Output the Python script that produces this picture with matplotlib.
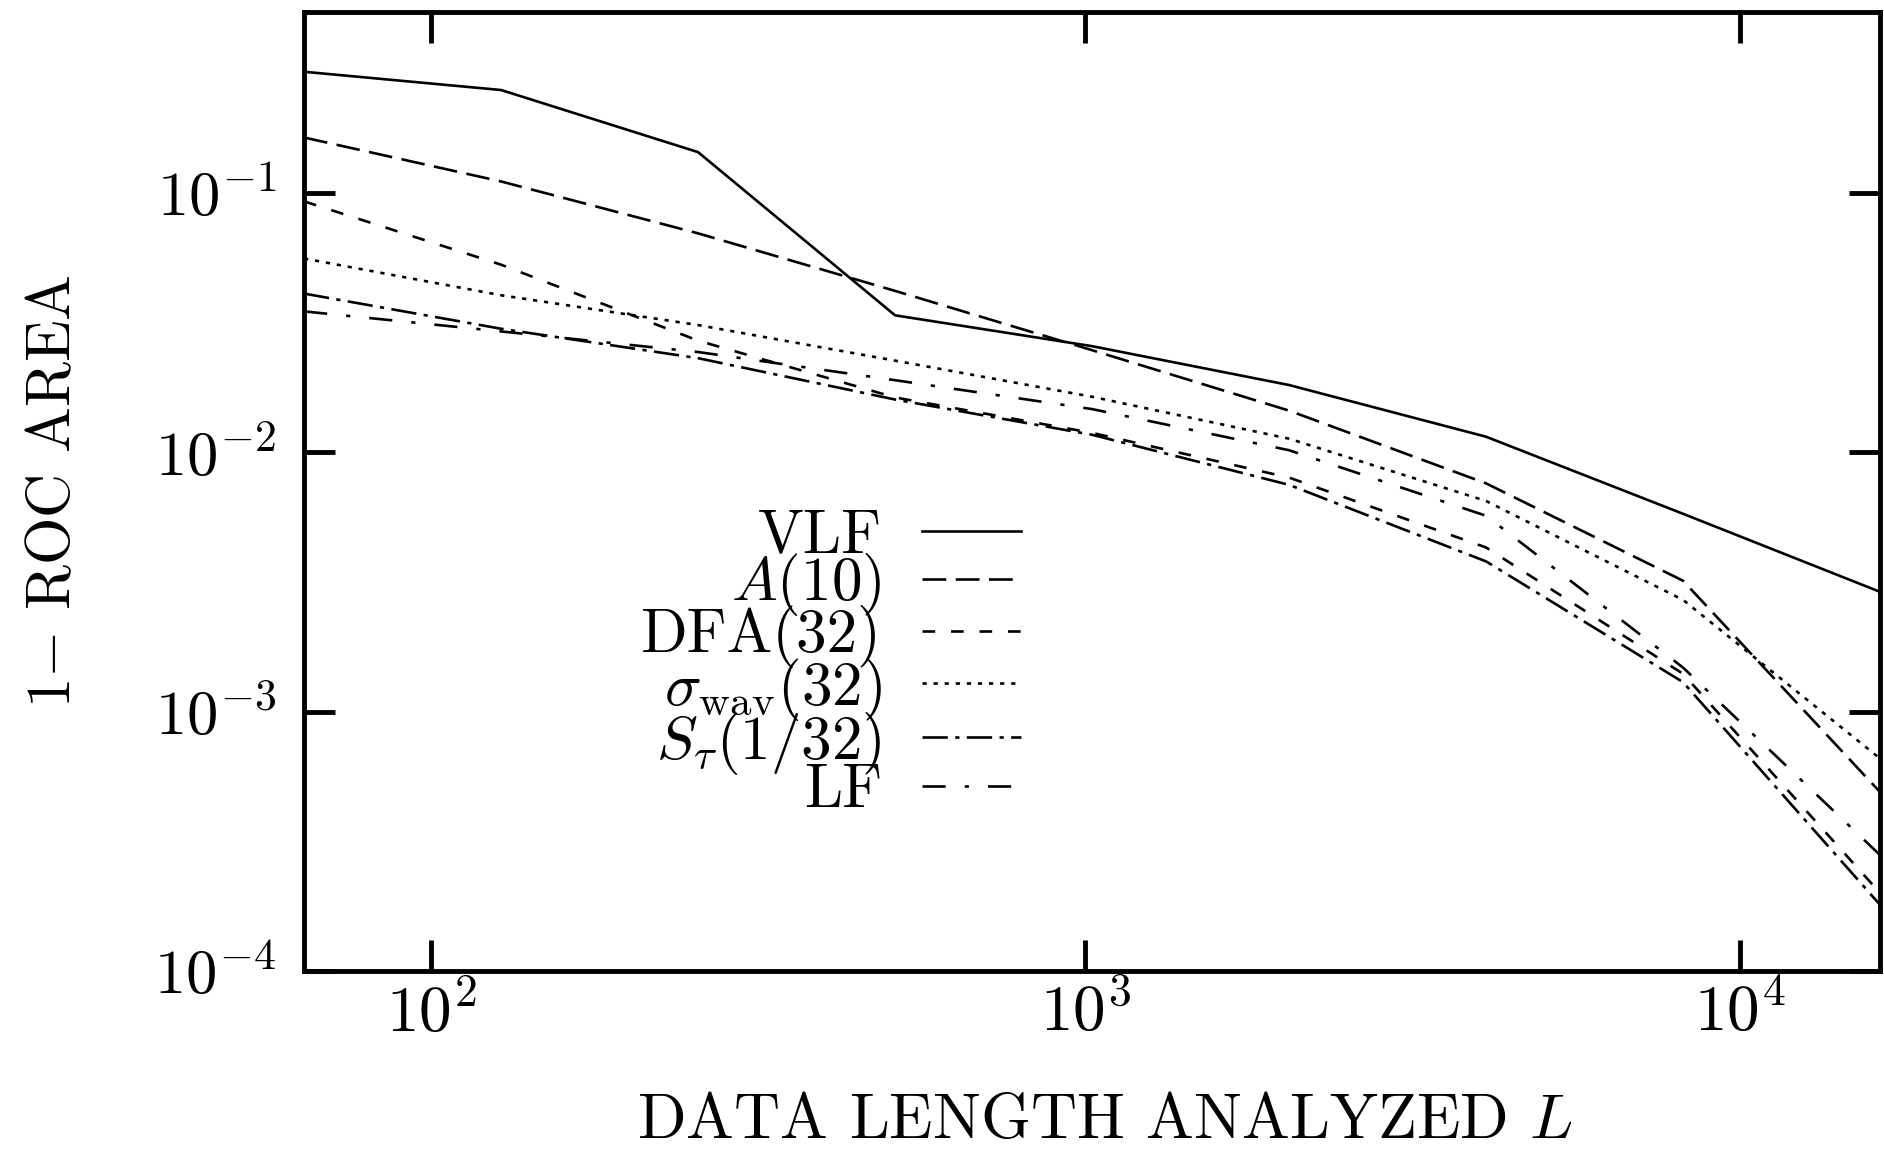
import matplotlib
matplotlib.use("Agg")
import matplotlib.pyplot as plt
from matplotlib.ticker import LogLocator, NullLocator

# Font: Computer Modern (shipped with matplotlib)
plt.rcParams['font.family'] = 'serif'
plt.rcParams['font.serif'] = ['cmr10']
plt.rcParams['mathtext.fontset'] = 'cm'
plt.rcParams['axes.formatter.use_mathtext'] = True

# Data: 1 - ROC area vs data length L
L = [64, 128, 256, 512, 1024, 2048, 4096, 8192, 16384]
vlf = [0.294, 0.25, 0.144, 0.0338, 0.0257, 0.0182, 0.0115, 0.0058, 0.0029]
a10 = [0.164, 0.111, 0.070, 0.042, 0.0248, 0.0145, 0.0076, 0.0032, 0.00049]
dfa32 = [0.093, 0.053, 0.027, 0.0163, 0.0119, 0.0080, 0.0043, 0.0014, 0.00020]
swav32 = [0.056, 0.0404, 0.031, 0.0226, 0.0164, 0.0113, 0.0065, 0.0027, 0.00066]
stau = [0.041, 0.0300, 0.0231, 0.0160, 0.0117, 0.0075, 0.0038, 0.0013, 0.00018]
lf = [0.035, 0.0293, 0.0244, 0.0190, 0.0147, 0.0102, 0.0057, 0.00148, 0.00028]

labels = ["VLF", "$A(10)$", "DFA(32)", r"$\sigma_{\mathrm{wav}}(32)$",
          r"$S_\tau(1/32)$", "LF"]

fig = plt.figure(figsize=(18.84, 11.51), dpi=100)
ax = fig.add_axes([0.1614, 0.1564, 0.8365, 0.8332])

lw = 1.9
ax.plot(L, vlf, color='black', lw=lw, linestyle='-', label=labels[0])
ax.plot(L, a10, color='black', lw=lw, linestyle=(0, (9, 3.6)), label=labels[1])
ax.plot(L, dfa32, color='black', lw=lw, linestyle=(0, (4.8, 6)), label=labels[2])
ax.plot(L, swav32, color='black', lw=lw, linestyle=(0, (1.6, 2.6)), label=labels[3])
ax.plot(L, stau, color='black', lw=lw, linestyle=(0, (9.6, 2.8, 1.6, 2.8)), label=labels[4])
ax.plot(L, lf, color='black', lw=lw, linestyle=(0, (8.8, 7.2, 1.6, 7.2)), label=labels[5])

ax.set_xscale('log')
ax.set_yscale('log')
ax.set_xlim(64, 16384)
ax.set_ylim(1e-4, 0.5)
ax.xaxis.set_major_locator(LogLocator(base=10, numticks=10))
ax.yaxis.set_major_locator(LogLocator(base=10, numticks=10))
ax.xaxis.set_minor_locator(NullLocator())
ax.yaxis.set_minor_locator(NullLocator())

for s in ax.spines.values():
    s.set_linewidth(3.5)
ax.tick_params(which='major', direction='in', length=22, width=3.5,
               top=True, right=True)
ax.tick_params(axis='x', labelsize=47, pad=8)
ax.tick_params(axis='y', labelsize=45, pad=20)

ax.set_xlabel("DATA LENGTH ANALYZED $L$", fontsize=46, labelpad=35)
ax.xaxis.label.set_x(0.508)
ax.set_ylabel("1$-$ ROC AREA", fontsize=44, labelpad=52)

ax.legend(loc='upper right', bbox_to_anchor=(0.455, 0.482), frameon=False,
          markerfirst=False, fontsize=44, handlelength=1.62, handletextpad=0.66,
          labelspacing=-0.21, borderpad=0, borderaxespad=0)

fig.savefig("out.png", dpi=100)
